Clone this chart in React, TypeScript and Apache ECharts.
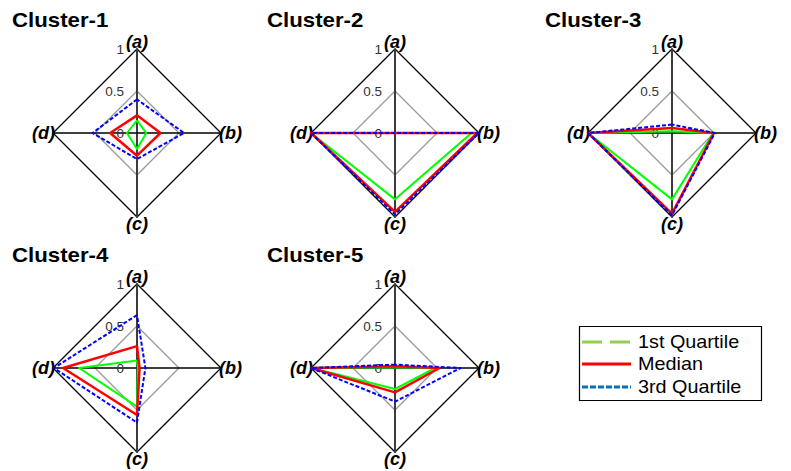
import React, { useEffect, useRef } from 'react';
import * as echarts from 'echarts';

// Axis names in natural order (a), (b), (c), (d)
const axisNames = ['(a)', '(b)', '(c)', '(d)'];
// Radial ticks (rings) shared by every radar
const ringTicks = [0, 0.5, 1];
const seriesNames = ['1st Quartile', 'Median', '3rd Quartile'];
const clusterTitles = ['Cluster-1', 'Cluster-2', 'Cluster-3', 'Cluster-4', 'Cluster-5'];

// Values per cluster, each row ordered (a), (b), (c), (d)
const firstQuartile = [
  [0.15, 0.11, 0.19, 0.12],
  [0.0, 0.91, 0.79, 1.0],
  [0.02, 0.49, 0.79, 1.0],
  [0.09, 0.01, 0.46, 0.69],
  [0.01, 0.48, 0.25, 0.99],
];
const medianValues = [
  [0.21, 0.28, 0.27, 0.32],
  [0.0, 0.98, 0.94, 1.0],
  [0.06, 0.5, 0.96, 1.0],
  [0.26, 0.03, 0.56, 0.88],
  [0.02, 0.53, 0.29, 1.0],
];
const thirdQuartile = [
  [0.4, 0.56, 0.31, 0.53],
  [0.0, 1.0, 0.97, 1.0],
  [0.1, 0.51, 0.98, 1.0],
  [0.63, 0.1, 0.65, 0.99],
  [0.04, 0.78, 0.4, 1.0],
];

const FONT = '"Liberation Sans", Arial, Helvetica, sans-serif';

// radar centres and title anchors for the 3 + 2 grid
const centers = [
  [137, 133],
  [395, 133],
  [672, 133],
  [137, 368],
  [395, 368],
];
const titleAnchors = [
  [12, 20],
  [267, 20],
  [545, 20],
  [12, 255],
  [267, 255],
];
const RADIUS = 84;

// ECharts lays indicators out counter-clockwise from the top,
// so (a) top, (d) left, (c) bottom, (b) right.
const displayOrder = [0, 3, 2, 1];
const reorder = (row: number[]) => displayOrder.map((k) => row[k]);

const lineStyles = [
  { color: '#00ff00', width: 2, type: 'solid' },
  { color: '#ff0000', width: 2.5, type: 'solid' },
  { color: '#0000ff', width: 2, type: [4, 2] },
];
const seriesSets = [firstQuartile, medianValues, thirdQuartile];

export default function App() {
  const ref = useRef<HTMLDivElement>(null);

  useEffect(() => {
    if (!ref.current) return;
    const chart = echarts.init(ref.current, undefined, { renderer: 'svg' });

    const radar = centers.map((c) => ({
      center: c,
      radius: RADIUS,
      startAngle: 90,
      shape: 'polygon',
      splitNumber: ringTicks.length - 1,
      nameGap: -2,
      nameMoveOverlap: false,
      axisName: {
        color: '#000',
        fontSize: 18,
        fontWeight: 'bold',
        fontStyle: 'italic',
        fontFamily: FONT,
      },
      indicator: displayOrder.map((k) => {
        const vertical = k === 0 || k === 2;
        const ind: any = {
          name: axisNames[k],
          min: ringTicks[0],
          max: ringTicks[ringTicks.length - 1],
          // keep the name on its vertex even where it meets the "1" label
          nameMoveOverlap: false,
          axisLine: {
            lineStyle: vertical ? { color: '#3c3c3c', width: 2 } : { color: '#000', width: 1.5 },
          },
        };
        if (k === 0) ind.axisLabel = { show: true };
        return ind;
      }),
      axisLine: { show: true, lineStyle: { color: '#000', width: 1.5 } },
      axisTick: { show: false },
      axisLabel: {
        show: false,
        color: '#333',
        fontSize: 13.5,
        margin: 13,
        fontFamily: FONT,
      },
      splitLine: { show: true, lineStyle: { color: ['#000', '#999', '#000'], width: 1.3 } },
      splitArea: { show: false },
    }));

    const series = centers.map((_, ci) => ({
      type: 'radar',
      radarIndex: ci,
      symbol: 'none',
      silent: true,
      data: seriesSets.map((set, si) => ({
        name: seriesNames[si],
        value: reorder(set[ci]),
        lineStyle: lineStyles[si],
        itemStyle: { color: lineStyles[si].color },
      })),
    }));

    const titleGraphics = clusterTitles.map((t, i) => ({
      type: 'text',
      x: titleAnchors[i][0],
      y: titleAnchors[i][1],
      scaleX: 1.14,
      style: {
        text: t,
        fontSize: 19.5,
        fontWeight: 'bold',
        fontFamily: FONT,
        fill: '#000',
        align: 'left',
        verticalAlign: 'middle',
      },
    }));

    // legend box with its own line samples
    const legendRows = [
      { y: 342, stroke: '#92d050', dash: [20, 8] },
      { y: 364, stroke: '#ff0000', dash: null },
      { y: 387, stroke: '#0070c0', dash: [6, 2] },
    ];
    const legendGraphics: any[] = [
      {
        type: 'rect',
        shape: { x: 579.5, y: 326.5, width: 182, height: 74 },
        style: { fill: '#fff', stroke: '#000', lineWidth: 1.2 },
      },
    ];
    legendRows.forEach((r, i) => {
      legendGraphics.push({
        type: 'line',
        shape: { x1: 582, y1: r.y, x2: 631, y2: r.y },
        style: { stroke: r.stroke, lineWidth: 3, lineDash: r.dash || undefined },
      });
      legendGraphics.push({
        type: 'text',
        x: 638,
        y: r.y,
        scaleX: 1.1,
        style: {
          text: seriesNames[i],
          fontSize: 18,
          fontFamily: FONT,
          fill: '#000',
          align: 'left',
          verticalAlign: 'middle',
        },
      });
    });

    chart.setOption({
      animation: false,
      backgroundColor: '#fff',
      radar,
      series,
      graphic: [...titleGraphics, ...legendGraphics],
    } as any);

    return () => chart.dispose();
  }, []);

  return (
    <div
      ref={ref}
      style={{ position: 'absolute', left: 0, top: 0, width: 791, height: 471 }}
    />
  );
}
